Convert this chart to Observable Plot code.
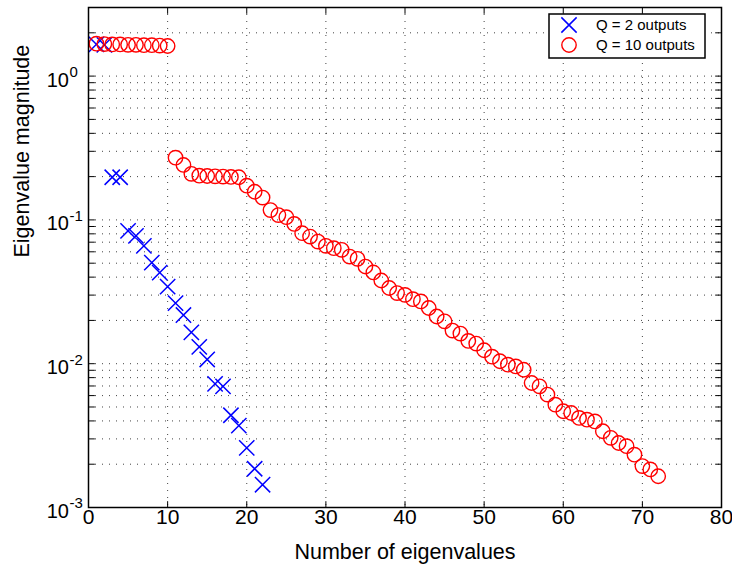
<!DOCTYPE html>
<html><head><meta charset="utf-8">
<script src="https://cdn.jsdelivr.net/npm/d3@7"></script>
<script src="https://cdn.jsdelivr.net/npm/@observablehq/plot@0.6"></script>
<style>body{margin:0;background:#fff} #chart{width:732px;height:569px}</style>
</head><body><div id="chart"></div>
<script>
// ---- data ----
const q2Index = [1,2,3,4,5,6,7,8,9,10,11,12,13,14,15,16,17,18,19,20,21,22];
const q2Values = [1.66,1.65,0.198,0.198,0.0839,0.0774,0.066,0.0505,0.043,0.0344,0.0264,0.0218,0.0165,0.0131,0.0107,0.00723,0.00696,0.00438,0.00371,0.0026,0.00186,0.00144];

const q10Index = [1,2,3,4,5,6,7,8,9,10,11,12,13,14,15,16,17,18,19,20,21,22,23,24,25,26,27,28,29,30,31,32,33,34,35,36,37,38,39,40,41,42,43,44,45,46,47,48,49,50,51,52,53,54,55,56,57,58,59,60,61,62,63,64,65,66,67,68,69,70,71,72];
const q10Values = [1.68,1.67,1.66,1.66,1.65,1.65,1.64,1.64,1.63,1.62,
  0.271,0.241,0.209,0.203,0.202,0.201,0.200,0.199,0.198,0.173,
  0.157,0.143,0.117,0.108,0.1045,0.0938,0.0808,0.0766,0.0707,0.066,
  0.0636,0.0619,0.0556,0.0536,0.0474,0.0431,0.0379,0.0336,0.031,0.0301,
  0.0281,0.0271,0.0244,0.0213,0.0197,0.0170,0.0162,0.0144,0.0138,0.0124,
  0.0112,0.0104,0.00984,0.00958,0.00908,0.00734,0.00696,0.0061,0.00519,0.00467,
  0.00454,0.0042,0.00408,0.00397,0.00339,0.00305,0.00281,0.00267,0.00233,0.00194,
  0.00184,0.00165];

const seriesNames = ["Q = 2 outputs", "Q = 10 outputs"];
const xTicks = [0,10,20,30,40,50,60,70,80];
const xGrid = [10,20,30,40,50,60,70];
const yExponents = [-3,-2,-1,0];
const yMinorTicks = [0.001,0.002,0.003,0.004,0.005,0.006,0.007,0.008,0.009,
  0.01,0.02,0.03,0.04,0.05,0.06,0.07,0.08,0.09,
  0.1,0.2,0.3,0.4,0.5,0.6,0.7,0.8,0.9,1,2];
const xLabel = "Number of eigenvalues";
const yLabel = "Eigenvalue magnitude";

const q2 = q2Index.map((x,i)=>({x, y:q2Values[i]}));
const q10 = q10Index.map((x,i)=>({x, y:q10Values[i]}));

// inward tick shapes (pixel lengths)
const TL = 6.3;
const tickUp = {draw(c){c.moveTo(0,0);c.lineTo(0,-TL);}};
const tickDown = {draw(c){c.moveTo(0,0);c.lineTo(0,TL);}};
const tickRight = {draw(c){c.moveTo(0,0);c.lineTo(TL,0);}};
const tickLeft = {draw(c){c.moveTo(0,0);c.lineTo(-TL,0);}};

const font = "'Liberation Sans', Arial, Helvetica, sans-serif";
const gridStyle = {stroke:"#222", strokeWidth:1, strokeDasharray:"1,6", strokeOpacity:0.85};

const chart = Plot.plot({
  width: 732, height: 569,
  marginLeft: 88, marginRight: 11, marginTop: 7, marginBottom: 62,
  style: {fontFamily: font, background: "white", color: "black", overflow: "visible"},
  x: {domain: [0, 80], axis: null},
  y: {type: "log", domain: [0.001, 3], axis: null},
  marks: [
    Plot.ruleX(xGrid, {x: d=>d, ...gridStyle}),
    Plot.ruleY(yMinorTicks.filter(d=>d>0.001), {y: d=>d, ...gridStyle}),
    Plot.dot(q2, {x:"x", y:"y", symbol:"times", r:7, stroke:"#0000ff", strokeWidth:1.5}),
    Plot.dot(q10, {x:"x", y:"y", symbol:"circle", r:7.2, fill:"none", stroke:"#ff0000", strokeWidth:1.4}),
    Plot.frame({stroke:"black", strokeWidth:1.5}),
    Plot.dot(xTicks, {x:d=>d, frameAnchor:"bottom", symbol:tickUp, fill:"none", stroke:"black", strokeWidth:1}),
    Plot.dot(xTicks, {x:d=>d, frameAnchor:"top", symbol:tickDown, fill:"none", stroke:"black", strokeWidth:1}),
    Plot.dot(yMinorTicks, {y:d=>d, frameAnchor:"left", symbol:tickRight, fill:"none", stroke:"black", strokeWidth:1}),
    Plot.dot(yMinorTicks, {y:d=>d, frameAnchor:"right", symbol:tickLeft, fill:"none", stroke:"black", strokeWidth:1}),
    Plot.text(xTicks, {x:d=>d, frameAnchor:"bottom", text:d=>String(d), dy:16, fontSize:21, fill:"black"}),
    Plot.text(yExponents, {y:d=>10**d, frameAnchor:"left", text:()=>"10", textAnchor:"end", dx:-19.5, dy:4, fontSize:20, fill:"black"}),
    Plot.text(yExponents, {y:d=>10**d, frameAnchor:"left", text:d=>d===0?"0":"-"+Math.abs(d), textAnchor:"start", dx:-19, dy:-4, fontSize:15, fill:"black"}),
    Plot.text([xLabel], {frameAnchor:"bottom", text:d=>d, dy:51, fontSize:21.5, fill:"black"}),
    Plot.text([yLabel], {frameAnchor:"left", text:d=>d, dx:-66, rotate:-90, fontSize:21.5, fill:"black"})
  ]
});
document.getElementById("chart").appendChild(chart);

// legend box inside the axes (top-right)
const svg = d3.select(chart);
const lg = svg.append("g").attr("font-family", font).attr("text-anchor","start");
lg.append("rect").attr("x",549).attr("y",14).attr("width",156).attr("height",44)
  .attr("fill","white").attr("stroke","black").attr("stroke-width",1.5);
lg.append("path").attr("transform","translate(569,25)")
  .attr("d", d3.symbol(d3.symbolTimes, Math.PI*49)())
  .attr("fill","none").attr("stroke","#0000ff").attr("stroke-width",1.5);
lg.append("circle").attr("cx",569).attr("cy",45).attr("r",7.2)
  .attr("fill","none").attr("stroke","#ff0000").attr("stroke-width",1.4);
lg.selectAll("text.lab").data(seriesNames).join("text")
  .attr("x",596).attr("y",(d,i)=>i===0?25:45).attr("dy","0.35em")
  .attr("text-anchor","start")
  .attr("font-size",15).attr("fill","black").text(d=>d);
</script>
</body></html>
